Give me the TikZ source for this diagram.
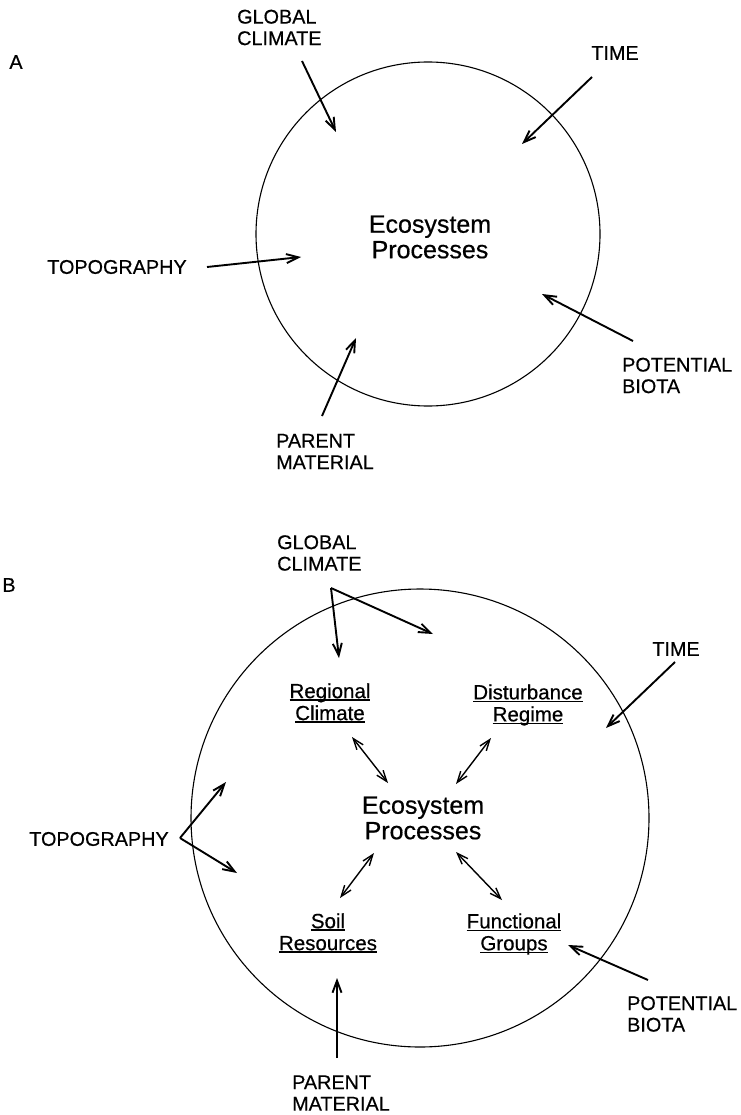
\documentclass[tikz,border=0pt]{standalone}
\usepackage{fontspec}
\setmainfont{Liberation Sans}[FakeBold=0.5]
\usetikzlibrary{arrows.meta}
\newcommand\myul[1]{\setbox0\hbox{#1}\rlap{\rule[-2.6pt]{\wd0}{1.4pt}}\box0}
\begin{document}
\begin{tikzpicture}[x=1pt,y=-1pt,
  lab/.style={font=\fontsize{19.8}{21.5}\selectfont, inner sep=0pt},
  eco/.style={font=\fontsize{25}{25.5}\selectfont, inner sep=0pt, align=center},
  sub/.style={font=\fontsize{20.5}{22}\selectfont, inner sep=0pt, align=center},
  arr/.style={-{Straight Barb[length=12pt,width=9pt]}, line width=1.9pt},
  darr/.style={{Straight Barb[length=11pt,width=8pt]}-{Straight Barb[length=11pt,width=8pt]}, line width=1.4pt},
  ring/.style={circle, draw, line width=1.1pt, inner sep=0pt}]
\useasboundingbox (0,0) rectangle (740,1115);
% ---------- Panel A ----------
\node[ring, minimum size=344pt] (circA) at (428,234) {};
\node[lab] (labA) at (16,62) {A};
\node[lab, align=left, anchor=west] (gcA) at (237,27.5) {GLOBAL\\CLIMATE};
\node[lab] (timeA) at (615,53) {TIME};
\node[lab] (topoA) at (117,267) {TOPOGRAPHY};
\node[lab, align=left, anchor=west] (biotaA) at (622,375.5) {POTENTIAL\\BIOTA};
\node[lab, align=left, anchor=west] (parentA) at (276,451.5) {PARENT\\MATERIAL};
\node[eco] (ecoA) at (430,237) {Ecosystem\\Processes};
\coordinate (gcAs) at (302,61);   \coordinate (gcAe) at (336,132);
\coordinate (timeAs) at (592,77); \coordinate (timeAe) at (522,144);
\coordinate (topoAs) at (207,267);\coordinate (topoAe) at (301,257);
\coordinate (biotaAs) at (633,341);\coordinate (biotaAe) at (542,294);
\coordinate (parAs) at (322,416); \coordinate (parAe) at (356,338);
\draw[arr] (gcAs) -- (gcAe);
\draw[arr] (timeAs) -- (timeAe);
\draw[arr] (topoAs) -- (topoAe);
\draw[arr] (biotaAs) -- (biotaAe);
\draw[arr] (parAs) -- (parAe);
% ---------- Panel B ----------
\node[ring, minimum size=458pt] (circB) at (420,818) {};
\node[lab] (labB) at (9,585) {B};
\node[lab, align=left, anchor=west] (gcB) at (277,553) {GLOBAL\\CLIMATE};
\node[lab] (timeB) at (676,649) {TIME};
\node[lab] (topoB) at (99,839) {TOPOGRAPHY};
\node[lab, align=left, anchor=west] (biotaB) at (627,1014) {POTENTIAL\\BIOTA};
\node[lab, align=left, anchor=west] (parentB) at (292,1093) {PARENT\\MATERIAL};
\node[eco] (ecoB) at (423,818) {Ecosystem\\Processes};
\node[sub] (regB) at (330,703) {\myul{Regional}\\\myul{Climate}};
\node[sub] (distB) at (528,705) {\myul{Disturbance}\\\myul{Regime}};
\node[sub] (soilB) at (328,933) {\myul{Soil}\\\myul{Resources}};
\node[sub] (funcB) at (514,934) {\myul{Functional}\\\myul{Groups}};
\coordinate (gcBs) at (331,588);
\coordinate (gcBe1) at (339,658); \coordinate (gcBe2) at (433,634);
\coordinate (timeBs) at (675,662); \coordinate (timeBe) at (606,728);
\coordinate (topoBs) at (180,838);
\coordinate (topoBe1) at (226,782); \coordinate (topoBe2) at (237,873);
\coordinate (biotaBs) at (648,980); \coordinate (biotaBe) at (568,945);
\coordinate (parBs) at (337,1058); \coordinate (parBe) at (337,978);
\coordinate (r1) at (352,737); \coordinate (r2) at (388,783);
\coordinate (d1) at (491,738); \coordinate (d2) at (456,784);
\coordinate (s1) at (340,898); \coordinate (s2) at (374,853);
\coordinate (f1) at (502,900); \coordinate (f2) at (456,852);
\draw[arr] (gcBs) -- (gcBe1);
\draw[arr] (gcBs) -- (gcBe2);
\draw[arr] (timeBs) -- (timeBe);
\draw[arr] (topoBs) -- (topoBe1);
\draw[arr] (topoBs) -- (topoBe2);
\draw[arr] (biotaBs) -- (biotaBe);
\draw[arr] (parBs) -- (parBe);
\draw[darr] (r1) -- (r2);
\draw[darr] (d1) -- (d2);
\draw[darr] (s1) -- (s2);
\draw[darr] (f1) -- (f2);
\end{tikzpicture}
\end{document}
